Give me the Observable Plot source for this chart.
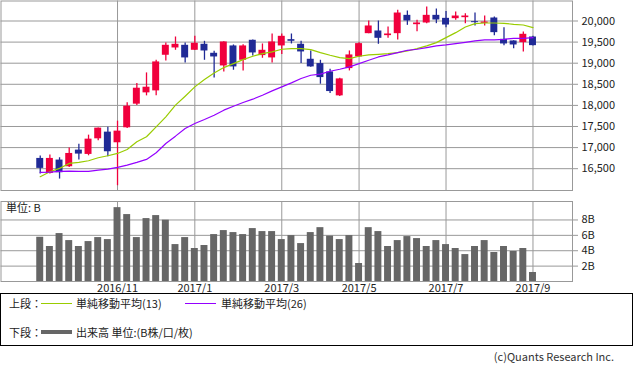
<!DOCTYPE html>
<html><head><meta charset="utf-8">
<script src="https://cdn.jsdelivr.net/npm/d3@7"></script>
<script src="https://cdn.jsdelivr.net/npm/@observablehq/plot@0.6"></script>
<style>
body{margin:0;background:#fff;font-family:"Noto Sans CJK JP",sans-serif;}
#wrap{position:relative;width:633px;height:370px;overflow:hidden;background:#fff;}
#price{position:absolute;left:0;top:0;}
#vol{position:absolute;left:0;top:200px;}
#legend{position:absolute;left:0;top:293px;width:631px;height:51px;border:1px solid #000;font-size:11px;color:#222;}
#legend span{position:absolute;white-space:nowrap;line-height:13px;}
#legend i{position:absolute;display:block;}
#copy{position:absolute;right:19px;top:350px;font-size:11px;color:#333;white-space:nowrap;line-height:13px;}
</style></head>
<body><div id="wrap">
<div id="price"></div><div id="vol"></div>
<div id="legend">
  <span style="left:8px;top:3px">上段：</span>
  <i style="left:40px;top:9px;width:31px;height:1px;background:#99cc00"></i>
  <span style="left:75px;top:3px">単純移動平均(13)</span>
  <i style="left:184px;top:9px;width:31px;height:1px;background:#9400ff"></i>
  <span style="left:220px;top:3px">単純移動平均(26)</span>
  <span style="left:8px;top:32px">下段：</span>
  <i style="left:40px;top:36px;width:31px;height:4px;background:#666"></i>
  <span style="left:75px;top:32px">出来高 単位:(B株/口/枚)</span>
</div>
<div id="copy">(c)Quants Research Inc.</div>
</div>
<script>
const weeks = ["2016-09-12","2016-09-19","2016-09-26","2016-10-03","2016-10-10","2016-10-17","2016-10-24","2016-10-31","2016-11-07","2016-11-14","2016-11-21","2016-11-28","2016-12-05","2016-12-12","2016-12-19","2016-12-26",
"2017-01-02","2017-01-09","2017-01-16","2017-01-23","2017-01-30","2017-02-06","2017-02-13","2017-02-20","2017-02-27","2017-03-06","2017-03-13","2017-03-20","2017-03-27","2017-04-03","2017-04-10","2017-04-17","2017-04-24","2017-05-01","2017-05-08","2017-05-15","2017-05-22","2017-05-29","2017-06-05","2017-06-12","2017-06-19","2017-06-26","2017-07-03","2017-07-10","2017-07-17","2017-07-24","2017-07-31","2017-08-07","2017-08-14","2017-08-21","2017-08-28","2017-09-04"];
const open  = [16743,16388,16704,16546,16940,16838,17208,17366,17114,17469,18029,18297,18344,19188,19361,19424,19306,19448,19235,18935,19409,19069,19543,19180,19125,19409,19558,19448,19093,18991,18793,18226,18872,19148,19700,19763,19653,19700,20134,19913,19953,20134,20063,20055,20079,19984,19945,20071,19566,19527,19487,19621];
const high  = [16798,16822,16759,16988,17082,17295,17465,17484,17626,18060,18517,18770,19069,19480,19621,19480,19637,19519,19282,19510,19432,19440,19550,19456,19692,19692,19692,19519,19290,19069,18857,18644,19290,19487,20000,20000,19858,20252,20237,20016,20331,20284,20225,20213,20173,20189,20118,20095,19842,19530,19740,19637];
const low   = [16372,16372,16254,16530,16704,16806,17161,16783,16096,17453,17997,18226,18226,19054,19306,19006,19300,19069,18651,18793,18833,18817,19172,19117,19006,19204,19456,18991,18905,18502,18281,18210,18817,19133,19695,19448,19590,19551,19897,19748,19937,19937,19842,20016,19937,19882,19882,19653,19416,19345,19267,19410];
const close = [16507,16743,16404,16861,16846,17200,17461,16901,17390,17981,18407,18431,19030,19424,19448,19125,19472,19290,19148,19503,18912,19409,19243,19306,19503,19637,19519,19267,18912,18659,18328,18628,19196,19464,19882,19590,19692,20189,20000,19953,20134,20024,19905,20118,20118,19961,19976,19724,19456,19432,19685,19416];
const ma13  = [16309,16428,16507,16625,16649,16688,16759,16806,16861,16956,17137,17256,17492,17729,18005,18218,18439,18612,18770,18896,18991,19085,19164,19227,19267,19330,19345,19345,19322,19251,19188,19133,19109,19164,19196,19211,19227,19251,19290,19345,19409,19487,19606,19724,19858,19937,19953,19953,19945,19921,19905,19842];
const ma26  = [16412,16420,16436,16443,16436,16436,16467,16491,16530,16585,16649,16720,16877,17098,17271,17453,17571,17666,17768,17887,17981,18068,18147,18241,18344,18439,18533,18636,18715,18740,18809,18857,18912,18991,19069,19148,19196,19251,19306,19330,19369,19409,19432,19464,19495,19527,19551,19551,19566,19590,19590,19606];
const volume = [5.75,4.55,6.23,5.32,4.55,5.19,5.71,5.45,9.6,8.7,5.71,8.18,8.57,7.97,4.8,5.71,4.29,4.68,6.1,6.62,6.36,6.1,6.88,6.49,6.49,5.45,5.97,4.93,6.36,7.0,5.9,5.45,5.97,2.34,7.0,6.49,4.55,5.32,5.84,5.58,4.55,5.32,4.8,4.29,3.5,4.55,5.32,3.77,4.55,3.9,4.29,1.17];
const priceTicks = [16500,17000,17500,18000,18500,19000,19500,20000];
const volTicks = [2,4,6,8];
const tickWeeks = ["2016-11-07","2017-01-02","2017-03-06","2017-05-01","2017-07-03","2017-09-04"];
const tickLabels = ["2016/11","2017/1","2017/3","2017/5","2017/7","2017/9"];

const FONT = '"Noto Sans CJK JP", sans-serif';
const GRID = "#999999", UP = "#f0003c", DOWN = "#202a96", GREEN = "#99cc00", PURPLE = "#9400ff";
const tickIdx = tickWeeks.map(w => weeks.indexOf(w));
const rows = weeks.map((w, i) => ({i, week: w, open: open[i], high: high[i], low: low[i], close: close[i], ma13: ma13[i], ma26: ma26[i], vol: volume[i]}));
const ups = rows.filter(d => d.close >= d.open), downs = rows.filter(d => d.close < d.open);
const X_DOMAIN = [-4.06, 55.09];
const HALF = 0.36;

const price = Plot.plot({
  width: 633, height: 191,
  marginLeft: 0.5, marginRight: 61, marginTop: 0.5, marginBottom: 1,
  style: {fontFamily: FONT, fontSize: "11px", background: "white", color: "#222", overflow: "visible"},
  x: {domain: X_DOMAIN, axis: null},
  y: {domain: [15983, 20474], axis: null},
  marks: [
    Plot.gridY(priceTicks, {stroke: GRID, strokeOpacity: 1}),
    Plot.gridX(tickIdx, {stroke: GRID, strokeOpacity: 1}),
    Plot.frame({stroke: GRID}),
    Plot.axisY(priceTicks, {anchor: "right", label: null, tickSize: 5, tickPadding: 4, tickFormat: d3.format(","), stroke: GRID, color: "#222"}),
    Plot.ruleX(ups, {x: "i", y1: "low", y2: "high", stroke: UP, strokeWidth: 1.3}),
    Plot.ruleX(downs, {x: "i", y1: "low", y2: "high", stroke: DOWN, strokeWidth: 1.3}),
    Plot.rectY(ups, {x1: d => d.i - HALF, x2: d => d.i + HALF, y1: "open", y2: "close", fill: UP}),
    Plot.rectY(downs, {x1: d => d.i - HALF, x2: d => d.i + HALF, y1: "open", y2: "close", fill: DOWN}),
    Plot.line(rows, {x: "i", y: "ma13", stroke: GREEN, strokeWidth: 1.2}),
    Plot.line(rows, {x: "i", y: "ma26", stroke: PURPLE, strokeWidth: 1.2})
  ]
});
document.getElementById("price").appendChild(price);

const vol = Plot.plot({
  width: 633, height: 100,
  marginLeft: 0.5, marginRight: 61, marginTop: 1, marginBottom: 19,
  style: {fontFamily: FONT, fontSize: "11px", background: "white", color: "#222", overflow: "visible"},
  x: {domain: X_DOMAIN, axis: null},
  y: {domain: [0, 10.4], axis: null},
  marks: [
    Plot.gridY(volTicks, {stroke: GRID, strokeOpacity: 1}),
    Plot.gridX(tickIdx, {stroke: GRID, strokeOpacity: 1}),
    Plot.rectY(rows, {x1: d => d.i - HALF, x2: d => d.i + HALF, y: "vol", fill: "#666666"}),
    Plot.frame({stroke: GRID}),
    Plot.axisY(volTicks, {anchor: "right", label: null, tickSize: 5, tickPadding: 4, tickFormat: d => d + "B", stroke: GRID, color: "#222"}),
    Plot.axisX(tickIdx, {anchor: "bottom", label: null, tickSize: 0, tickPadding: 3, tickFormat: d => tickLabels[tickIdx.indexOf(d)], color: "#222"}),
    Plot.text(["単位: B"], {text: d => d, frameAnchor: "top-left", dx: 5, dy: 3, textAnchor: "start", lineAnchor: "top", fill: "#222"})
  ]
});
document.getElementById("vol").appendChild(vol);
</script>
</body></html>
